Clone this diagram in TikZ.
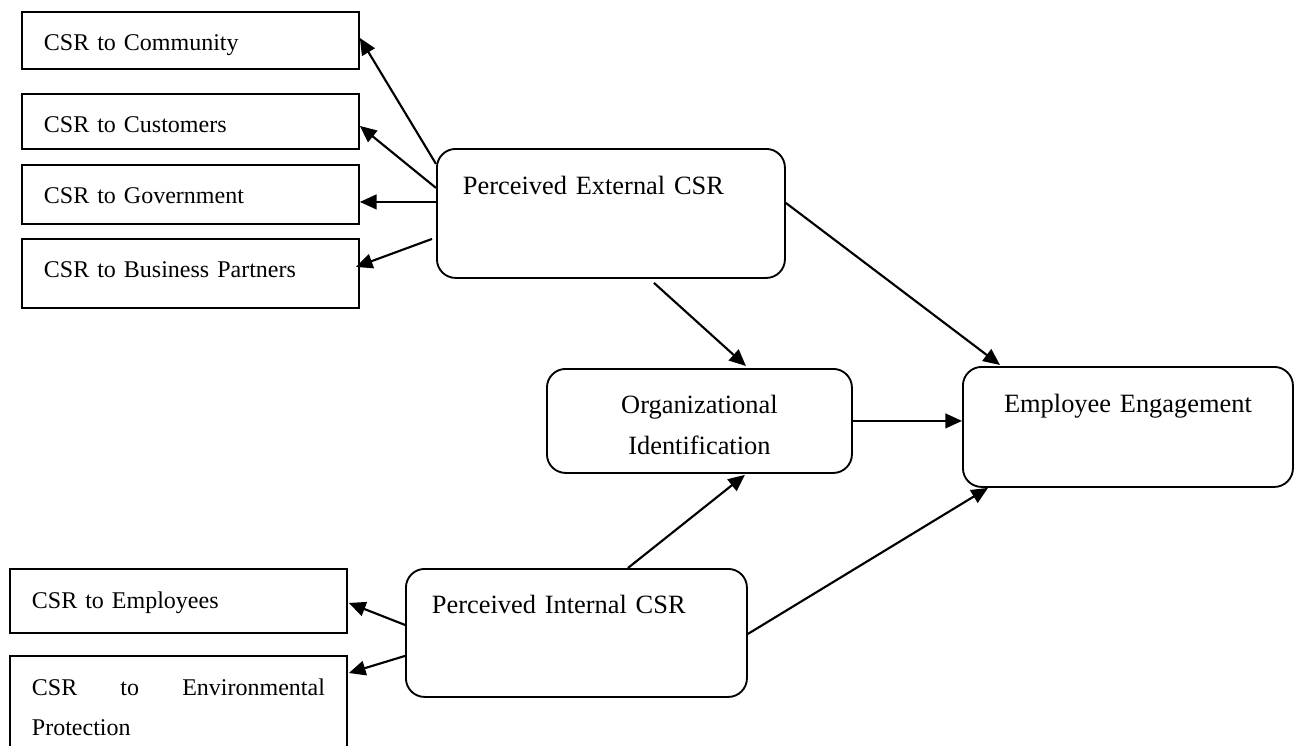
\documentclass[tikz,border=0pt]{standalone}
\usepackage{fontspec}
\setmainfont{Liberation Serif}
\usetikzlibrary{arrows.meta}
\begin{document}
\begin{tikzpicture}[x=0.75pt,y=-0.75pt,
    csr/.style={draw,line width=1.4pt,anchor=north west,inner xsep=16.5pt,inner ysep=0pt,
      text width=219.75pt,align=left,font=\fontsize{18pt}{30pt}\selectfont},
    perc/.style={draw,line width=1.4pt,rounded corners=14pt,anchor=north west,inner xsep=19.5pt,
      inner ysep=0pt,align=left,font=\fontsize{19.8pt}{30.75pt}\selectfont},
    result/.style={perc,inner xsep=7.5pt,align=center},
    link/.style={-{Triangle[length=12.5pt,width=11pt]},line width=1.6pt}]
  \useasboundingbox (0,0) rectangle (1296,746);
  \clip (0,0) rectangle (1296,746);
  \node[csr,text height=29.25pt,text depth=13.5pt] (comm) at (21,11) {CSR to Community};
  \node[csr,text height=29.25pt,text depth=12pt] (cust) at (21,93) {CSR to Customers};
  \node[csr,text height=29.25pt,text depth=15pt] (gov) at (21,164) {CSR to Government};
  \node[csr,text height=29.25pt,text depth=22.5pt] (bus) at (21,238) {CSR to Business Partners};
  \node[csr,text height=30pt,text depth=18pt] (emp) at (9,568) {CSR to Employees};
  \node[csr,align=justify,text height=30pt,text depth=60pt] (env) at (9,655) {CSR to Environmental \mbox{Protection}};
  \node[perc,text width=222pt,text height=34.5pt,text depth=62.25pt] (ext) at (436,148) {Perceived External CSR};
  \node[perc,text width=216.75pt,text height=33.75pt,text depth=62.25pt] (int) at (405,568) {Perceived Internal CSR};
  \node[result,text width=213.75pt,text height=33.75pt,text depth=44.25pt] (org) at (546,368) {Organizational\\Identification};
  \node[result,text width=232.5pt,text height=34.5pt,text depth=55.5pt] (eng) at (962,366) {Employee Engagement};
  \begin{scope}[link]
    \draw ([shift={(0,-49.5)}]ext.west) to ([shift={(0,-2.5)}]comm.east);
    \draw ([shift={(0,-25.5)}]ext.west) to ([shift={(0,4.5)}]cust.east);
    \draw ([shift={(0,-11.5)}]ext.west) to ([shift={(0,7.5)}]gov.east);
    \draw ([shift={(-4,25.5)}]ext.west) to ([shift={(-4,-6.5)}]bus.east);
    \draw ([shift={(43,4)}]ext.south) to ([shift={(46.5,-2)}]org.north);
    \draw ([shift={(0,-10.5)}]ext.east) to ([shift={(38,-1)}]eng.north west);
    \draw (org.east) to (org.east -| eng.west);
    \draw ([shift={(51.5,0)}]int.north) to ([shift={(45.5,1)}]org.south);
    \draw ([shift={(0,1)}]int.east) to ([shift={(26,0)}]eng.south west);
    \draw ([shift={(0,-8)}]int.west) to ([shift={(1,2)}]emp.east);
    \draw ([shift={(0,23)}]int.west) to ([shift={(1,18)}]env.north east);
  \end{scope}
\end{tikzpicture}
\end{document}
